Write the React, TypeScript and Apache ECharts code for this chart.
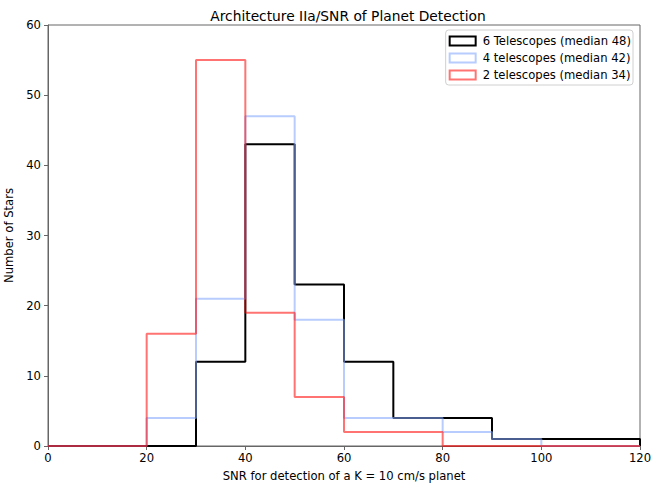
import React, { useEffect, useRef } from "react";
import * as echarts from "echarts";

// Histogram bin edges (SNR) and star counts per bin
const binEdges = [0, 10, 20, 30, 40, 50, 60, 70, 80, 90, 100, 110, 120];
const sixTelescopes = [0, 0, 0, 12, 43, 23, 12, 4, 4, 1, 1, 1];
const fourTelescopes = [0, 0, 4, 21, 47, 18, 4, 4, 2, 1, 0, 0];
const twoTelescopes = [0, 0, 16, 55, 19, 7, 2, 2, 0, 0, 0, 0];
const seriesNames = [
  "6 Telescopes (median 48)",
  "4 telescopes (median 42)",
  "2 telescopes (median 34)",
];

// Build a step outline: each bin holds its count from its left edge to the next edge
function stepPoints(counts: number[]): [number, number][] {
  const pts: [number, number][] = counts.map((c, i) => [binEdges[i], c]);
  const last = binEdges[binEdges.length - 1];
  pts.push([last, counts[counts.length - 1]]);
  pts.push([last, 0]);
  return pts;
}

const FONT = "DejaVu Sans";

export default function App() {
  const ref = useRef<HTMLDivElement>(null);
  useEffect(() => {
    if (!ref.current) return;
    const chart = echarts.init(ref.current, undefined, { renderer: "svg" });
    const colors = ["#000000", "rgba(130,167,251,0.57)", "rgba(255,0,0,0.55)"];
    const counts = [sixTelescopes, fourTelescopes, twoTelescopes];
    chart.setOption({
      animation: false,
      textStyle: { fontFamily: FONT },
      title: {
        text: "Architecture IIa/SNR of Planet Detection",
        left: 343,
        textAlign: "center",
        top: 4,
        textStyle: { fontFamily: FONT, fontSize: 13.8, fontWeight: "normal", color: "#000" },
      },
      grid: {
        left: 48,
        right: 12,
        top: 25,
        bottom: 41,
        outerBoundsMode: "none",
        containLabel: false,
        show: true,
        borderColor: "#666",
        borderWidth: 1,
        backgroundColor: "transparent",
      },
      legend: {
        orient: "vertical",
        right: 19,
        top: 30,
        padding: [5, 2, 4, 3],
        borderColor: "#d0d0d0",
        borderWidth: 1,
        borderRadius: 3,
        backgroundColor: "#fff",
        itemWidth: 26,
        itemHeight: 9,
        itemGap: 5,
        icon: "rect",
        textStyle: {
          fontFamily: FONT,
          fontSize: 11.6,
          lineHeight: 12,
          color: "#000",
          padding: [0, 0, 0, 2],
        },
        data: seriesNames.map((name, i) => ({
          name,
          itemStyle: { color: "transparent", borderColor: colors[i], borderWidth: 2 },
        })),
      },
      xAxis: {
        type: "value",
        min: 0,
        max: 120,
        interval: 20,
        name: "SNR for detection of a K = 10 cm/s planet",
        nameLocation: "middle",
        nameGap: 24,
        nameTextStyle: { fontFamily: FONT, fontSize: 11.6, color: "#000" },
        axisLine: { show: true, lineStyle: { color: "#666", width: 1 } },
        axisTick: { show: true, inside: false, length: 4, lineStyle: { color: "#666" } },
        axisLabel: { fontFamily: FONT, fontSize: 11.6, color: "#000", margin: 6 },
        splitLine: { show: false },
      },
      yAxis: {
        type: "value",
        min: 0,
        max: 60,
        interval: 10,
        name: "Number of Stars",
        nameLocation: "middle",
        nameGap: 29,
        nameTextStyle: { fontFamily: FONT, fontSize: 11.6, color: "#000" },
        axisLine: { show: true, lineStyle: { color: "#666", width: 1 } },
        axisTick: { show: true, inside: false, length: 4, lineStyle: { color: "#666" } },
        axisLabel: { fontFamily: FONT, fontSize: 11.6, color: "#000", margin: 7 },
        splitLine: { show: false },
      },
      series: counts.map((c, i) => ({
        name: seriesNames[i],
        type: "line",
        step: "end",
        showSymbol: false,
        symbol: "none",
        data: stepPoints(c),
        lineStyle: { color: colors[i], width: 2 },
        itemStyle: { color: colors[i] },
        z: 2 + i,
      })),
    });
    return () => chart.dispose();
  }, []);
  return <div ref={ref} style={{ width: 652, height: 487, position: "absolute", left: 0, top: 0 }} />;
}
